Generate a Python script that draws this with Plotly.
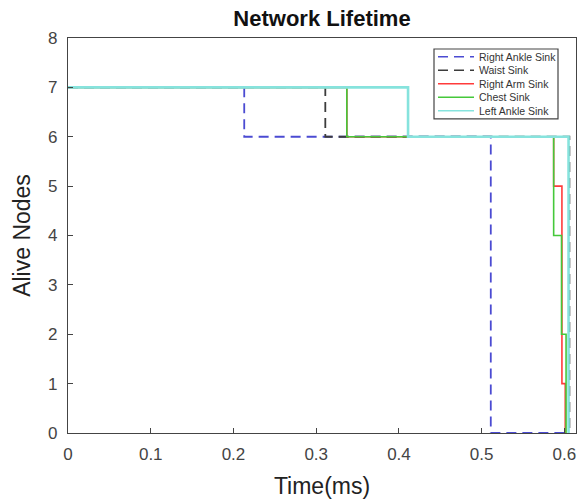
import plotly.graph_objects as go

# Data (step functions: value holds until next time)
right_ankle_t = [0, 0.213, 0.511, 0.601]
right_ankle_n = [7, 6, 0, 0]
waist_t = [0, 0.311, 0.606]
waist_n = [7, 6, 0]
right_arm_t = [0, 0.337, 0.587, 0.597, 0.601]
right_arm_n = [7, 6, 5, 1, 0]
chest_t = [0, 0.337, 0.587, 0.5965, 0.602]
chest_n = [7, 6, 4, 2, 0]
left_ankle_t = [0, 0.411, 0.605]
left_ankle_n = [7, 6, 0]

x_ticks = [0, 0.1, 0.2, 0.3, 0.4, 0.5, 0.6]
x_tick_labels = ["0", "0.1", "0.2", "0.3", "0.4", "0.5", "0.6"]
y_ticks = [0, 1, 2, 3, 4, 5, 6, 7, 8]

series = [
    ("Right Ankle Sink", right_ankle_t, right_ankle_n, "#4b4bd2", True, 1.8),
    ("Waist Sink", waist_t, waist_n, "#3c3c3c", True, 1.8),
    ("Right Arm Sink", right_arm_t, right_arm_n, "#ff3b3b", False, 1.6),
    ("Chest Sink", chest_t, chest_n, "#45c83a", False, 1.6),
    ("Left Ankle Sink", left_ankle_t, left_ankle_n, "#86e3dd", False, 2.6),
]

fig = go.Figure()
for name, t, n, c, dashed, w in series:
    fig.add_trace(go.Scatter(x=t, y=n, mode="lines", name=name, line_shape="hv",
                             showlegend=False,
                             line=dict(color=c, dash="10px,6px" if dashed else "solid", width=w)))

# Manual legend box (paper coordinates)
L, R, T, B = 68, 5, 38, 69.5
W, H = 581 - L - R, 503 - T - B
def px(xp):
    return (xp - L) / W
def py(yp):
    return (503 - B - yp) / H

shapes = [dict(type="rect", xref="paper", yref="paper", x0=px(434), x1=px(558), y0=py(119), y1=py(49),
               line=dict(color="#444", width=1.2), fillcolor="white", layer="above")]
annotations = []
item_y0, item_dy = 56.8, 13.5
for i, (name, t, n, c, dashed, w) in enumerate(series):
    yy = py(item_y0 + i * item_dy)
    shapes.append(dict(type="line", xref="paper", yref="paper", x0=px(438), x1=px(474), y0=yy, y1=yy,
                       line=dict(color=c, width=1.6, dash="10px,6px" if dashed else "solid"), layer="above"))
    annotations.append(dict(xref="paper", yref="paper", x=px(477), y=yy, xanchor="left", yanchor="middle",
                            text=name, showarrow=False,
                            font=dict(size=10.5, color="#333", family="Liberation Sans, Arial, sans-serif")))

font = "Liberation Sans, Arial, sans-serif"
fig.update_layout(
    width=581, height=503,
    margin=dict(l=L, r=R, t=T, b=B),
    paper_bgcolor="white", plot_bgcolor="white",
    font=dict(family=font, color="#222"),
    title=dict(text="<b>Network Lifetime</b>", x=(L + W / 2) / 581, xanchor="center", xref="container",
               y=1 - 18 / 503, yref="container", yanchor="middle",
               font=dict(size=22, family=font, color="#111")),
    shapes=shapes, annotations=annotations,
    showlegend=False,
)
fig.update_xaxes(range=[0, 0.614], tickvals=x_ticks, ticktext=x_tick_labels,
                 ticks="inside", ticklen=5, tickcolor="#444", showgrid=False, zeroline=False,
                 showline=True, linecolor="#444", linewidth=1.2, mirror=True,
                 tickfont=dict(size=17, color="#444"), ticklabelstandoff=5,
                 title=dict(text="Time(ms)", font=dict(size=23, color="#222"), standoff=15))
fig.update_yaxes(range=[0, 8], tickvals=y_ticks, ticks="inside", ticklen=5, tickcolor="#444",
                 showgrid=False, zeroline=False,
                 showline=True, linecolor="#444", linewidth=1.2, mirror=True,
                 tickfont=dict(size=17, color="#444"), ticklabelstandoff=6,
                 title=dict(text="Alive Nodes", font=dict(size=23, color="#222"), standoff=10))

fig.write_html("out.html")
